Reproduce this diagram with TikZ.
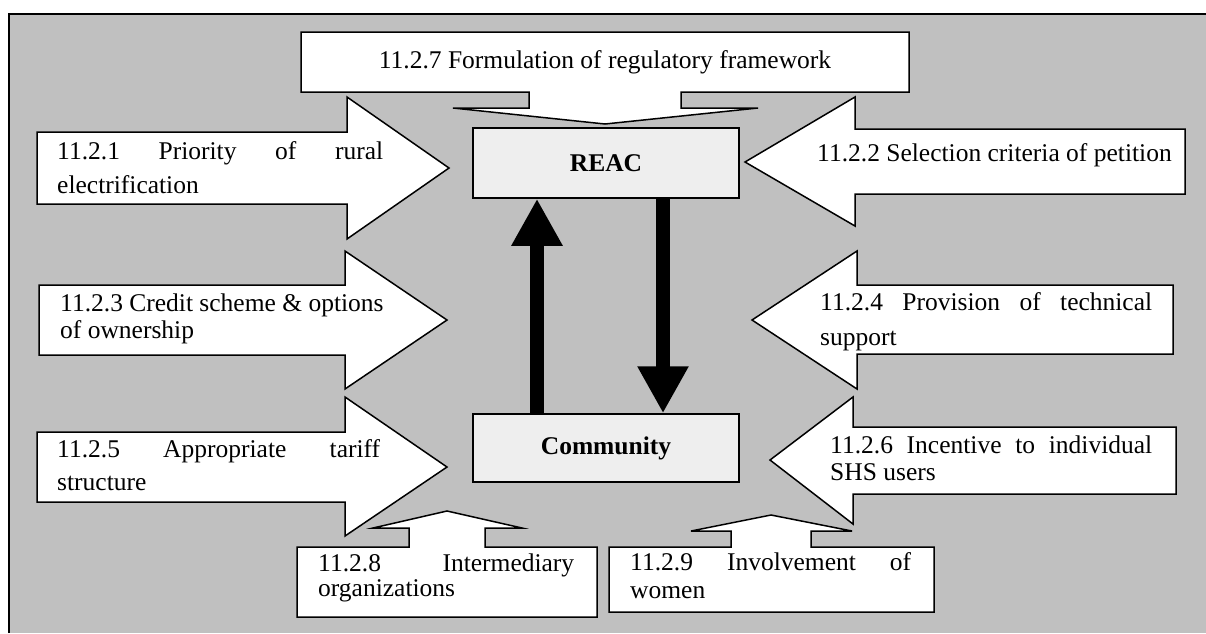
\documentclass[tikz,border=0pt]{standalone}
\usepackage{fontspec}
\setmainfont{Liberation Serif}
\usetikzlibrary{arrows.meta}
\definecolor{panelgray}{HTML}{C0C0C0}
\definecolor{boxgray}{HTML}{EEEEEE}
\begin{document}
\begin{tikzpicture}[x=1pt,y=-1pt,
  blockarrow/.style={draw=black, fill=white, line width=1.5pt, line join=miter},
  txt/.style={anchor=base west, inner sep=0pt, font=\fontsize{25.5}{30}\selectfont},
  unitbox/.style={draw=black, fill=boxgray, line width=1.5pt, minimum width=266pt,
                  minimum height=70pt, inner sep=0pt, font=\fontsize{25.5}{30}\selectfont\bfseries},
  flow/.style={line width=14pt, -{Triangle[length=47pt,width=48pt]}}]

\useasboundingbox (0,0) rectangle (1206,633);
\fill[white] (0,0) rectangle (1206,633);

% grey panel behind everything
\fill[panelgray] (9,14) rectangle (1206,633);
\draw[line width=1.5pt] (9,633) -- (9,14) -- (1206,14);

% central units
\node[unitbox] (reac) at (606,163) {REAC};
\node[unitbox, minimum height=68pt] (comm) at (606,448) {Community};

% flows between the units
\coordinate (upx) at (537,0);
\coordinate (downx) at (663,0);
\draw[flow] (comm.north -| upx) -- (reac.south -| upx);
\draw[flow] (reac.south -| downx) -- (comm.north -| downx);

% 11.2.7 box with arrow pointing down to REAC
\draw[blockarrow] (301,32) -- (909,32) -- (909,92) -- (681,92) -- (681,108) -- (758,108)
  -- (605,124) -- (453,108) -- (529,108) -- (529,92) -- (301,92) -- cycle;
\node[txt, anchor=base] (t7) at (605,68) {11.2.7 Formulation of regulatory framework};

% arrows from the left
\draw[blockarrow] (37,132) -- (347,132) -- (347,97) -- (449,168) -- (347,239) -- (347,204) -- (37,204) -- cycle;
\node[txt] (t1a) at (57,159) {\makebox[326pt][s]{11.2.1 Priority of rural}};
\node[txt] (t1b) at (57,193) {electrification};

\draw[blockarrow] (39,285) -- (345,285) -- (345,251) -- (447,320) -- (345,389) -- (345,355) -- (39,355) -- cycle;
\node[txt] (t3a) at (60,311) {11.2.3 Credit scheme \& options};
\node[txt] (t3b) at (60,338) {of ownership};

\draw[blockarrow] (37,432) -- (345,432) -- (345,397) -- (447,467) -- (345,536) -- (345,502) -- (37,502) -- cycle;
\node[txt] (t5a) at (57,457) {\makebox[323pt][s]{11.2.5 Appropriate tariff}};
\node[txt] (t5b) at (57,490) {structure};

% arrows from the right
\draw[blockarrow] (1185,129) -- (855,129) -- (855,97) -- (745,162) -- (855,226) -- (855,194) -- (1185,194) -- cycle;
\node[txt] (t2) at (817,161) {11.2.2 Selection criteria of petition};

\draw[blockarrow] (1173,285) -- (857,285) -- (857,251) -- (752,320) -- (857,389) -- (857,354) -- (1173,354) -- cycle;
\node[txt] (t4a) at (820,310) {\makebox[332pt][s]{11.2.4 Provision of technical}};
\node[txt] (t4b) at (820,345) {support};

\draw[blockarrow] (1176,427) -- (853,427) -- (853,397) -- (770,460) -- (853,524) -- (853,494) -- (1176,494) -- cycle;
\node[txt] (t6a) at (830,453) {\makebox[322pt][s]{11.2.6 Incentive to individual}};
\node[txt] (t6b) at (830,480) {SHS users};

% boxes below with arrows pointing up
\draw[blockarrow] (297,617) -- (297,547) -- (409,547) -- (409,528) -- (373,528) -- (447,511)
  -- (522,528) -- (485,528) -- (485,547) -- (597,547) -- (597,617) -- cycle;
\node[txt] (t8a) at (318,571) {\makebox[256pt][s]{11.2.8 Intermediary}};
\node[txt] (t8b) at (318,596) {organizations};

\draw[blockarrow] (609,612) -- (609,547) -- (731,547) -- (731,531) -- (691,531) -- (771,515)
  -- (852,531) -- (811,531) -- (811,547) -- (934,547) -- (934,612) -- cycle;
\node[txt] (t9a) at (630,570) {\makebox[281pt][s]{11.2.9 Involvement of}};
\node[txt] (t9b) at (630,598) {women};
\end{tikzpicture}
\end{document}
